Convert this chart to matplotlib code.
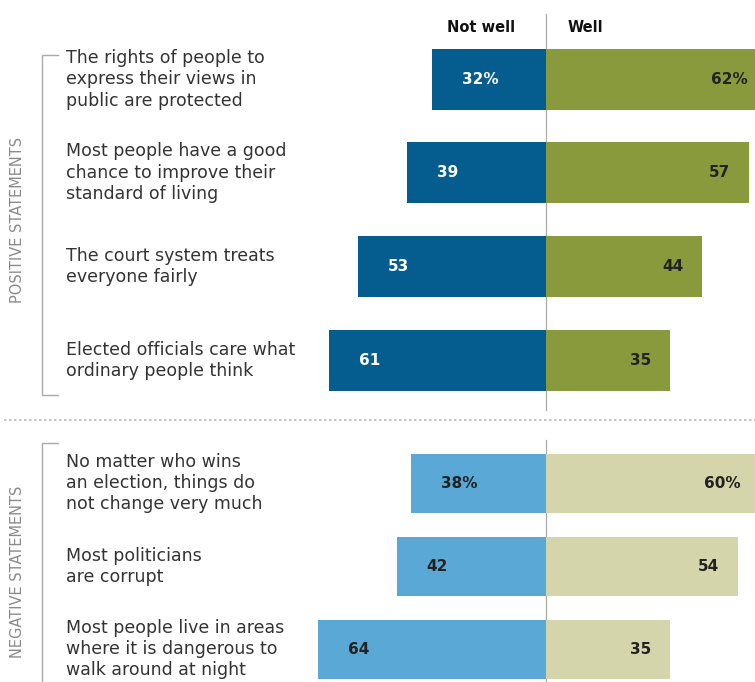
import matplotlib.pyplot as plt

# survey data (percent)
statements = [
    'The rights of people to\nexpress their views in\npublic are protected',
    'Most people have a good\nchance to improve their\nstandard of living',
    'The court system treats\neveryone fairly',
    'Elected officials care what\nordinary people think',
    'No matter who wins\nan election, things do\nnot change very much',
    'Most politicians\nare corrupt',
    'Most people live in areas\nwhere it is dangerous to\nwalk around at night',
]
not_well = [32, 39, 53, 61, 38, 42, 64]
well = [62, 57, 44, 35, 60, 54, 35]
not_well_labels = ['32%', '39', '53', '61', '38%', '42', '64']
well_labels = ['62%', '57', '44', '35', '60%', '54', '35']
positive = [True, True, True, True, False, False, False]

# layout (figure in pixels, y downwards)
W, H = 755, 682
X0, SCALE = 546, 3.555          # pixel of the zero line, pixels per percent
row_y = [79.5, 172.5, 266.5, 360.5, 483, 566.5, 649]
row_h = [61, 61, 61, 61, 59, 59, 59]

DARK_BLUE = '#045c8f'
OLIVE = '#899a3c'
LIGHT_BLUE = '#5aa8d6'
KHAKI = '#d4d5aa'
TEXT = '#333333'


def px(x):
    return (x - X0) / SCALE


fig = plt.figure(figsize=(W / 100, H / 100), dpi=100)
ax = fig.add_axes([0, 0, 1, 1])
ax.set_xlim(px(0), px(W))
ax.set_ylim(H, 0)
ax.axis('off')

for i in range(len(statements)):
    c_left = DARK_BLUE if positive[i] else LIGHT_BLUE
    c_right = OLIVE if positive[i] else KHAKI
    ax.barh(row_y[i], -not_well[i], height=row_h[i], color=c_left, zorder=2)
    ax.barh(row_y[i], well[i], height=row_h[i], color=c_right, zorder=2)

    ax.text(-not_well[i] + 30 / SCALE, row_y[i], not_well_labels[i],
            ha='left', va='center', fontsize=11, fontweight='bold',
            color='white' if positive[i] else '#222222', zorder=3)
    ax.text(min(well[i], px(767)) - 19 / SCALE, row_y[i], well_labels[i],
            ha='right', va='center', fontsize=11, fontweight='bold',
            color='#222222', zorder=3)

    ax.text(px(66), row_y[i], statements[i], ha='left', va='center',
            fontsize=12.5, color=TEXT, linespacing=1.24)

# header
ax.text(px(481), 27, 'Not well', ha='center', va='center', fontsize=10.5,
        fontweight='bold', color='#111111')
ax.text(px(568), 27, 'Well', ha='left', va='center', fontsize=10.5,
        fontweight='bold', color='#111111')

# zero line
ax.plot([0, 0], [14, 410], color='#aaaaaa', lw=0.9, zorder=1)
ax.plot([0, 0], [440, H], color='#aaaaaa', lw=0.9, zorder=1)

# separator
ax.plot([px(4), px(W)], [420, 420], color='#bbbbbb', lw=1.2,
        linestyle=(0, (1.5, 1.5)))

# brackets
ax.plot([px(58), px(42), px(42), px(58)], [55, 55, 395, 395],
        color='#aaaaaa', lw=1)
ax.plot([px(58), px(42), px(42)], [443, 443, H], color='#aaaaaa', lw=1)

ax.text(px(18), 220, 'POSITIVE STATEMENTS', rotation=90, ha='center',
        va='center', fontsize=10.5, color='#8a8a8a')
ax.text(px(18), 572, 'NEGATIVE STATEMENTS', rotation=90, ha='center',
        va='center', fontsize=10.5, color='#8a8a8a')

fig.savefig('out.png', dpi=100)
